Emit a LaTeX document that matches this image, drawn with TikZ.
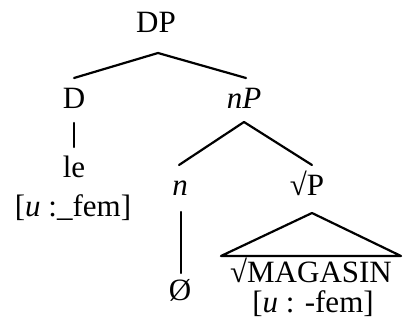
\documentclass[tikz,border=0pt]{standalone}
\usepackage{fontspec}
\setmainfont{Liberation Serif}
\begin{document}
\begin{tikzpicture}[x=1pt,y=-1pt,
  lbl/.style={anchor=base,inner sep=0pt,font=\fontsize{31}{33}\selectfont},
  edge/.style={line width=2.2pt,line cap=round,line join=round}]
\useasboundingbox (0,0) rectangle (403,329);
\node[lbl] (DP) at (156,33) {DP};
\node[lbl] (D) at (74,108) {D};
\node[lbl] (nP) at (244,108) {\itshape nP};
\node[lbl] (le) at (74,177) {le};
\node[lbl] (ufem) at (73,216) {[\textit{u} :\_fem]};
\node[lbl] (n) at (180,195) {\itshape n};
\node[lbl] (rP) at (307,195) {√P};
\node[lbl] (empty) at (180,300) {Ø};
\node[lbl] (mag) at (311,282) {√MAGASIN};
\node[lbl] (ufem2) at (313,312) {[\textit{u} : -fem]};
\coordinate (dpA) at (158,53);
\coordinate (dL) at (74,78);
\coordinate (dR) at (246,78);
\coordinate (dT) at (74,123);
\coordinate (dB) at (74,147);
\coordinate (npA) at (244,122);
\coordinate (npL) at (179,165);
\coordinate (npR) at (312,165);
\coordinate (nT) at (181,212);
\coordinate (nB) at (181,273);
\coordinate (tA) at (312,213);
\coordinate (tL) at (221,256);
\coordinate (tR) at (401,256);
\draw[edge] (dL) -- (dpA) -- (dR);
\draw[edge] (dT) -- (dB);
\draw[edge] (npL) -- (npA) -- (npR);
\draw[edge] (nT) -- (nB);
\draw[edge] (tA) -- (tL) -- (tR) -- cycle;
\end{tikzpicture}
\end{document}
